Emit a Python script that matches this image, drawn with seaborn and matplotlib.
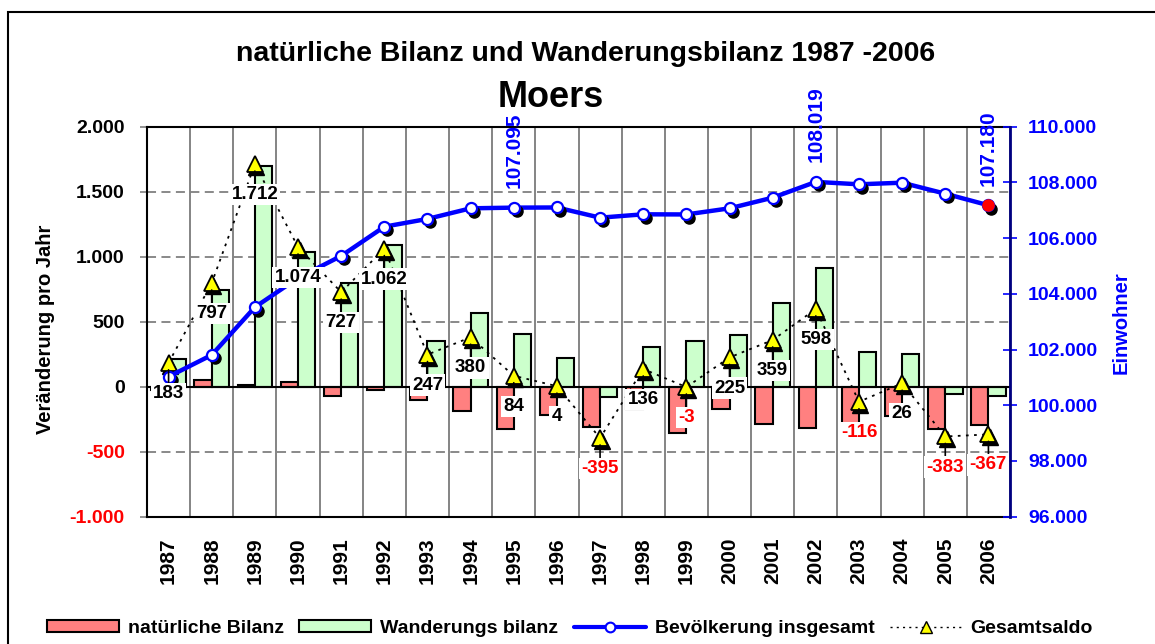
import numpy as np
import pandas as pd
import matplotlib
matplotlib.use("Agg")
import matplotlib.pyplot as plt
import seaborn as sns
from matplotlib.patches import Patch, Rectangle
from matplotlib.lines import Line2D
from matplotlib.transforms import ScaledTranslation

# ---------------- data ----------------
years = [str(y) for y in range(1987, 2007)]
natuerlich = [-27, 50, 15, 40, -70, -25, -105, -185, -325, -215,
              -312, -172, -354, -171, -285, -315, -380, -226, -328, -295]
wanderung = [210, 747, 1697, 1034, 797, 1087, 352, 565, 409, 219,
             -83, 308, 351, 396, 644, 913, 264, 251, -59, -72]
gesamtsaldo = [183, 797, 1712, 1074, 727, 1062, 247, 380, 84, 4,
               -395, 136, -3, 225, 359, 598, -116, 26, -383, -367]
bevoelkerung = [101027, 101805, 103520, 104570, 105360, 106410, 106690, 107070, 107095, 107100,
                106734, 106855, 106850, 107070, 107452, 108019, 107932, 107990, 107595, 107180]
pop_label_years = ["1995", "2002", "2006"]
left_ticks = [-1000, -500, 0, 500, 1000, 1500, 2000]
right_ticks = [96000, 98000, 100000, 102000, 104000, 106000, 108000, 110000]

title = "natürliche Bilanz und Wanderungsbilanz 1987 -2006"
subtitle = "Moers"
series_names = ["natürliche Bilanz", "Wanderungs bilanz", "Bevölkerung insgesamt", "Gesamtsaldo"]

RED = "#FF8080"
GREEN = "#CCFFCC"
BLUE = "#0000FF"
NAVY = "#000080"


def de(v):
    return f"{v:,}".replace(",", ".")


sns.set_theme(style="white")
plt.rcParams["font.family"] = ["Liberation Sans", "DejaVu Sans"]
plt.rcParams["text.color"] = "black"
plt.rcParams["axes.labelcolor"] = "black"
plt.rcParams["xtick.color"] = "black"
plt.rcParams["ytick.color"] = "black"

fig = plt.figure(figsize=(11.55, 6.44), dpi=100)
W, H = 1155, 644
ax1 = fig.add_axes([147 / W, 1 - 516.7 / H, (1010 - 147) / W, (516.7 - 126.7) / H])

df = pd.DataFrame({
    "Jahr": years * 2,
    "Wert": natuerlich + wanderung,
    "Reihe": [series_names[0]] * len(years) + [series_names[1]] * len(years),
})
sns.barplot(data=df, x="Jahr", y="Wert", hue="Reihe", palette=[RED, GREEN],
            saturation=1, edgecolor="black", linewidth=1.5, width=0.8,
            errorbar=None, legend=False, ax=ax1)

pos = np.arange(len(years))
ax1.set_xlim(-0.5, len(years) - 0.5)
ax1.set_ylim(-1000, 2000)

# grid
ax1.set_axisbelow(True)
ax1.yaxis.grid(True, linestyle=(0, (5, 3)), color="#808080", linewidth=1.3)
ax1.set_xticks(np.arange(-0.5, len(years), 1), minor=True)
ax1.xaxis.grid(True, which="minor", color="#707070", linewidth=1.2, linestyle="-")
ax1.xaxis.grid(False, which="major")
ax1.axhline(0, color="black", linewidth=1.5, zorder=2.5)

# Gesamtsaldo
shadow = ScaledTranslation(1.5 / 100, -3 / 100, fig.dpi_scale_trans)
ax1.plot(pos, gesamtsaldo, color="black", linestyle=(0, (1.5, 3)), linewidth=1.3, zorder=3)
ax1.plot(pos, gesamtsaldo, linestyle="none", marker="^", ms=12, mfc="black", mec="black",
         transform=ax1.transData + shadow, zorder=3.5)
ax1.plot(pos, gesamtsaldo, linestyle="none", marker="^", ms=12, mfc="#FFFF00", mec="black",
         mew=1.3, zorder=4)

# spines / ticks left
for s in ["left", "top", "bottom"]:
    ax1.spines[s].set_color("black")
    ax1.spines[s].set_linewidth(1.5)
ax1.spines["right"].set_visible(False)
ax1.set_yticks(left_ticks)
ax1.set_yticklabels([de(v) for v in left_ticks])
for lbl, v in zip(ax1.get_yticklabels(), left_ticks):
    lbl.set_fontweight("bold")
    lbl.set_fontsize(14)
    lbl.set_color("red" if v < 0 else "black")
ax1.tick_params(axis="y", which="major", length=5, width=1.2, color="#808080", pad=11, left=True)
ax1.tick_params(axis="x", which="both", length=0, pad=15)
ax1.set_xticks(pos)
ax1.set_xticklabels(years, rotation=90, fontsize=15, fontweight="bold", color="black")
ax1.set_xlabel("")
ax1.set_ylabel("")

# population on twin axis
ax2 = ax1.twinx()
ax2.set_ylim(96000, 110000)
ax2.set_xlim(-0.5, len(years) - 0.5)
pshadow = ScaledTranslation(3 / 100, -3.5 / 100, fig.dpi_scale_trans)
ax2.plot(pos, bevoelkerung, color=BLUE, linewidth=3.2, zorder=3)
ax2.plot(pos, bevoelkerung, linestyle="none", marker="o", ms=8, mfc="black", mec="black",
         transform=ax2.transData + pshadow, zorder=3.5)
ax2.plot(pos, bevoelkerung, linestyle="none", marker="o", ms=8, mfc="white", mec=BLUE,
         mew=1.6, zorder=4)
ax2.plot(pos[-1:], bevoelkerung[-1:], linestyle="none", marker="o", ms=8, mfc="red", mec="red",
         mew=1.0, zorder=4.5)

for i, y in enumerate(years):
    if y in pop_label_years:
        ax2.annotate(de(bevoelkerung[i]), xy=(pos[i], bevoelkerung[i]), xytext=(0, 14),
                     textcoords="offset points", rotation=90, ha="center", va="bottom",
                     color=BLUE, fontsize=15, fontweight="bold", zorder=6)

# Gesamtsaldo labels (on top of everything)
for i, v in enumerate(gesamtsaldo):
    ax2.annotate(de(v), xy=(pos[i], v), xycoords=ax1.transData, xytext=(0, -22),
                 textcoords="offset points", ha="center", va="center",
                 color="red" if v < 0 else "black", fontsize=13.5, fontweight="bold",
                 bbox=dict(boxstyle="square,pad=0.12", facecolor="white", edgecolor="none"),
                 arrowprops=dict(arrowstyle="-", color="black", lw=1.2, shrinkA=0, shrinkB=5),
                 zorder=7)

ax2.set_yticks(right_ticks)
ax2.set_yticklabels([de(v) for v in right_ticks])
for lbl in ax2.get_yticklabels():
    lbl.set_fontweight("bold")
    lbl.set_fontsize(14)
    lbl.set_color(BLUE)
ax2.tick_params(axis="y", direction="inout", length=10, width=1.2, color=BLUE, pad=8, right=True)
for s in ["left", "top", "bottom"]:
    ax2.spines[s].set_visible(False)
ax2.spines["right"].set_color(NAVY)
ax2.spines["right"].set_linewidth(2)
ax2.set_ylabel("")

# texts
fig.text(586 / W, 1 - 61 / H, title, ha="center", va="baseline", fontsize=20.5,
         fontweight="bold", color="black")
fig.text(551 / W, 1 - 107 / H, subtitle, ha="center", va="baseline", fontsize=26,
         fontweight="bold", color="black")
fig.text(46 / W, 1 - 329 / H, "Veränderung pro Jahr", rotation=90, ha="center", va="center",
         fontsize=14.5, fontweight="bold", color="black")
fig.text(1121 / W, 1 - 323 / H, "Einwohner", rotation=90, ha="center", va="center",
         fontsize=14.5, fontweight="bold", color=BLUE)

# legend
handles = [
    Patch(facecolor=RED, edgecolor="black", linewidth=1.5),
    Patch(facecolor=GREEN, edgecolor="black", linewidth=1.5),
    Line2D([], [], color=BLUE, linewidth=3, marker="o", ms=7, mfc="white", mec=BLUE, mew=1.5),
    Line2D([], [], color="black", linewidth=1.0, linestyle=(0, (1.5, 3)), marker="^", ms=8,
           mfc="#FFFF00", mec="black"),
]
leg = fig.legend(handles, series_names, loc="center", bbox_to_anchor=(570 / W, 1 - 628.5 / H),
                 ncol=4, frameon=False, prop=dict(size=14, weight="bold"),
                 handlelength=3.7, handleheight=0.6, handletextpad=0.45, columnspacing=0.8,
                 borderaxespad=0, borderpad=0)
for t in leg.get_texts():
    t.set_color("black")

# chart border
fig.patches.append(Rectangle((8 / W, -0.1), 1.2, 1 - 12 / H + 0.1, transform=fig.transFigure,
                             fill=False, edgecolor="black", linewidth=1.5))

fig.savefig("out.png", dpi=100)
